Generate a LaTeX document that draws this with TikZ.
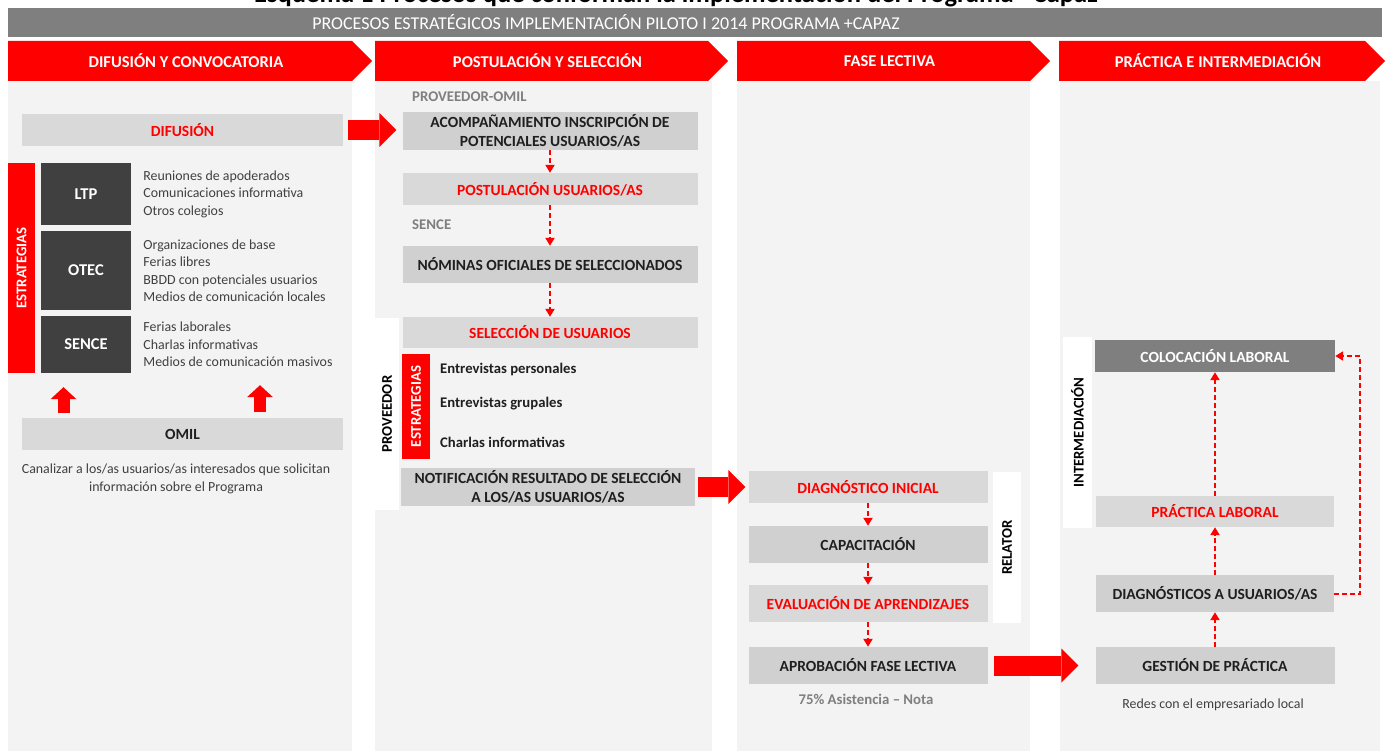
\documentclass[tikz,border=0pt]{standalone}
\usepackage{fontspec}
\setmainfont{Carlito}
\usetikzlibrary{arrows.meta,positioning}

\definecolor{rojo}{HTML}{FF0000}
\definecolor{grisbarra}{HTML}{7F7F7F}
\definecolor{fondo}{HTML}{F3F3F3}
\definecolor{cajaclara}{HTML}{D9D9D9}
\definecolor{cajaosc}{HTML}{D0D0D0}
\definecolor{grisoscuro}{HTML}{404040}
\definecolor{textogris}{HTML}{7F7F7F}

\tikzset{
  caja/.style={fill=cajaclara, inner sep=0pt, align=center, text=black!88,
    font=\fontsize{15.5}{19.5}\selectfont\bfseries},
  cajaroja/.style={caja, text=rojo},
  cajanegra/.style={caja, fill=cajaosc},
  bloqueosc/.style={fill=grisoscuro, text=white, inner sep=0pt,
    minimum width=90pt, font=\fontsize{16.5}{19}\selectfont\bfseries},
  cabecera/.style={text=white, font=\fontsize{16.5}{19}\selectfont\bfseries},
  vertical/.style={rotate=90, inner sep=0pt, font=\fontsize{14.8}{17}\selectfont\bfseries},
  lista/.style={align=left, inner sep=0pt, text=grisoscuro,
    font=\fontsize{13.9}{17.5}\selectfont},
  etiqueta/.style={inner sep=0pt, text=textogris, font=\fontsize{14.8}{17}\selectfont\bfseries},
  flechap/.style={draw=rojo, line width=2pt, dash pattern=on 5pt off 3pt,
    -{Triangle[length=8pt,width=9pt]}},
  bloque/.style={draw=rojo, line width=20pt, -{Triangle[length=17pt,width=34pt,line width=0pt]}},
  bloquev/.style={draw=rojo, line width=12pt, -{Triangle[length=12pt,width=26pt,line width=0pt]}}
}

\begin{document}
\begin{tikzpicture}[x=1pt, y=-1pt]
\fill[white] (0,0) rectangle (1389,751);
\useasboundingbox (0,0) rectangle (1389,751);

% Titulo (cortado arriba, como en el original)
\node[anchor=base, font=\fontsize{26.5}{30}\selectfont\bfseries] (titulo) at (676,3)
  {Esquema 1 Procesos que conforman la implementación del Programa +Capaz};

% Barra superior
\fill[grisbarra] (8,8) rectangle (1382,37);
\node[text=white, font=\fontsize{18}{20}\selectfont] (barra) at (606,22.5)
  {PROCESOS ESTRATÉGICOS IMPLEMENTACIÓN PILOTO I 2014 PROGRAMA +CAPAZ};

% Fondos de columnas
\foreach \xa/\xb in {8/352,375/712,737/1030,1060/1380}
  \fill[fondo] (\xa,81) rectangle (\xb,751);

% Encabezados
\foreach \xa/\xb/\txt in {8/372/DIFUSIÓN Y CONVOCATORIA,375/728/POSTULACIÓN Y SELECCIÓN,
    737/1050/FASE LECTIVA,1059/1385/PRÁCTICA E INTERMEDIACIÓN} {
  \fill[rojo] (\xa,41) -- (\xb-20,41) -- (\xb,61) -- (\xb-20,81) -- (\xa,81) -- cycle;
  \node[cabecera] (cab\xa) at ({(\xa+\xb)/2-4},61) {\txt};
}

% Difusion y convocatoria
\node[cajaroja, minimum width=321pt, minimum height=32pt] (difusion) at (182.5,130) {DIFUSIÓN};
\node[vertical, fill=rojo, text=white, minimum width=210pt, minimum height=27pt] (estr1)
  at (21.5,268) {ESTRATEGIAS};
\node[bloqueosc, minimum height=62pt] (ltp) at (86,194) {LTP};
\node[bloqueosc, minimum height=79pt] (otec) at (86,270.5) {OTEC};
\node[bloqueosc, minimum height=57pt] (sence) at (86,344.5) {SENCE};
\node[lista, right=12pt of ltp] (lltp)
  {Reuniones de apoderados\\Comunicaciones informativa\\Otros colegios};
\node[lista, right=12pt of otec] (lotec)
  {Organizaciones de base\\Ferias libres\\BBDD con potenciales usuarios\\Medios de comunicación locales};
\node[lista, right=12pt of sence] (lsence)
  {Ferias laborales\\Charlas informativas\\Medios de comunicación masivos};
\node[caja, minimum width=321pt, minimum height=32pt] (omil) at (182.5,434) {OMIL};
\node[lista, align=center] (canalizar) at (176,479)
  {Canalizar a los/as usuarios/as interesados que solicitan\\información sobre el Programa};
\coordinate (s1) at ([xshift=-119pt]omil.north);
\coordinate (s2) at ([xshift=77.5pt]omil.north);
\draw[bloquev, shorten <=5pt, shorten >=14pt] (s1) -- (s1 |- sence.south);
\draw[bloquev, shorten <=6pt, shorten >=12pt] (s2) -- (s2 |- sence.south);

% Postulacion y seleccion
\node[etiqueta, anchor=west] (provomil) at (412,97) {PROVEEDOR-OMIL};
\node[cajanegra, minimum width=295pt, minimum height=38pt] (acomp) at (550,131)
  {ACOMPAÑAMIENTO INSCRIPCIÓN DE\\POTENCIALES USUARIOS/AS};
\node[cajaroja, minimum width=295pt, minimum height=32pt] (postul) at (550,189) {POSTULACIÓN USUARIOS/AS};
\node[etiqueta, anchor=west] (lsence2) at (412,225) {SENCE};
\node[cajanegra, minimum width=295pt, minimum height=37pt] (nominas) at (550,264.5)
  {NÓMINAS OFICIALES DE SELECCIONADOS};
\node[cajaroja, minimum width=295pt, minimum height=31pt] (selecc) at (550,332.5) {SELECCIÓN DE USUARIOS};
\node[vertical, fill=white, text=black, minimum width=192pt, minimum height=24pt] (proveedor)
  at (387,414) {PROVEEDOR};
\node[vertical, fill=rojo, text=white, minimum width=105pt, minimum height=28pt] (estr2)
  at (416,406.5) {ESTRATEGIAS};
\foreach \y/\txt [count=\i] in {369/Entrevistas personales,404/Entrevistas grupales,442/Charlas informativas}
  \node[anchor=west, inner sep=0pt, text=black!88, font=\fontsize{14.7}{17}\selectfont\bfseries]
    (entr\i) at (440,\y) {\txt};
\node[cajanegra, minimum width=294pt, minimum height=38pt] (notif) at (548,487)
  {NOTIFICACIÓN RESULTADO DE SELECCIÓN\\A LOS/AS USUARIOS/AS};

\draw[bloque, shorten <=5pt, shorten >=6pt] (difusion.east) -- (difusion.east -| acomp.west);
\draw[flechap] (acomp) -- (postul);
\draw[flechap] (postul) -- (nominas);
\draw[flechap] (nominas) -- (selecc);

% Fase lectiva
\node[cajaroja, minimum width=239pt, minimum height=32pt] (diagini) at (868,487) {DIAGNÓSTICO INICIAL};
\node[cajanegra, minimum width=239pt, minimum height=37pt] (capac) at (868,544.5) {CAPACITACIÓN};
\node[cajaroja, minimum width=239pt, minimum height=37pt] (evalua) at (868,603.5) {EVALUACIÓN DE APRENDIZAJES};
\node[cajanegra, minimum width=239pt, minimum height=37pt] (aprob) at (868,665.5) {APROBACIÓN FASE LECTIVA};
\node[etiqueta] (asist) at (866,699) {75\% Asistencia -- Nota};
\node[vertical, fill=white, text=black, minimum width=151pt, minimum height=28pt] (relator)
  at (1007,547.5) {RELATOR};

\draw[bloque, shorten <=3pt, shorten >=3pt] (notif.east) -- (notif.east -| diagini.west);
\draw[flechap] (diagini) -- (capac);
\draw[flechap] (capac) -- (evalua);
\draw[flechap] (evalua) -- (aprob);

% Practica e intermediacion
\node[vertical, fill=white, text=black, minimum width=191pt, minimum height=29pt] (intermed)
  at (1077.5,432.5) {INTERMEDIACIÓN};
\node[caja, fill=grisbarra, text=white, minimum width=240pt, minimum height=32pt] (coloc)
  at (1215,356) {COLOCACIÓN LABORAL};
\node[cajaroja, minimum width=238pt, minimum height=31pt] (practica) at (1215,511.5) {PRÁCTICA LABORAL};
\node[cajanegra, minimum width=238pt, minimum height=37pt] (diagu) at (1215,593.5) {DIAGNÓSTICOS A USUARIOS/AS};
\node[cajanegra, minimum width=239pt, minimum height=37pt] (gestion) at (1215,665.5) {GESTIÓN DE PRÁCTICA};
\node[lista] (redes) at (1213,705) {Redes con el empresariado local};

\draw[bloque, shorten <=6pt, shorten >=17pt] (aprob.east) -- (aprob.east -| gestion.west);
\draw[flechap] (gestion) -- (diagu);
\draw[flechap] (diagu) -- (practica);
\draw[flechap] (practica) -- (coloc);
\draw[flechap] (diagu.east) -- ++(26pt,0) |- (coloc.east);
\end{tikzpicture}
\end{document}
